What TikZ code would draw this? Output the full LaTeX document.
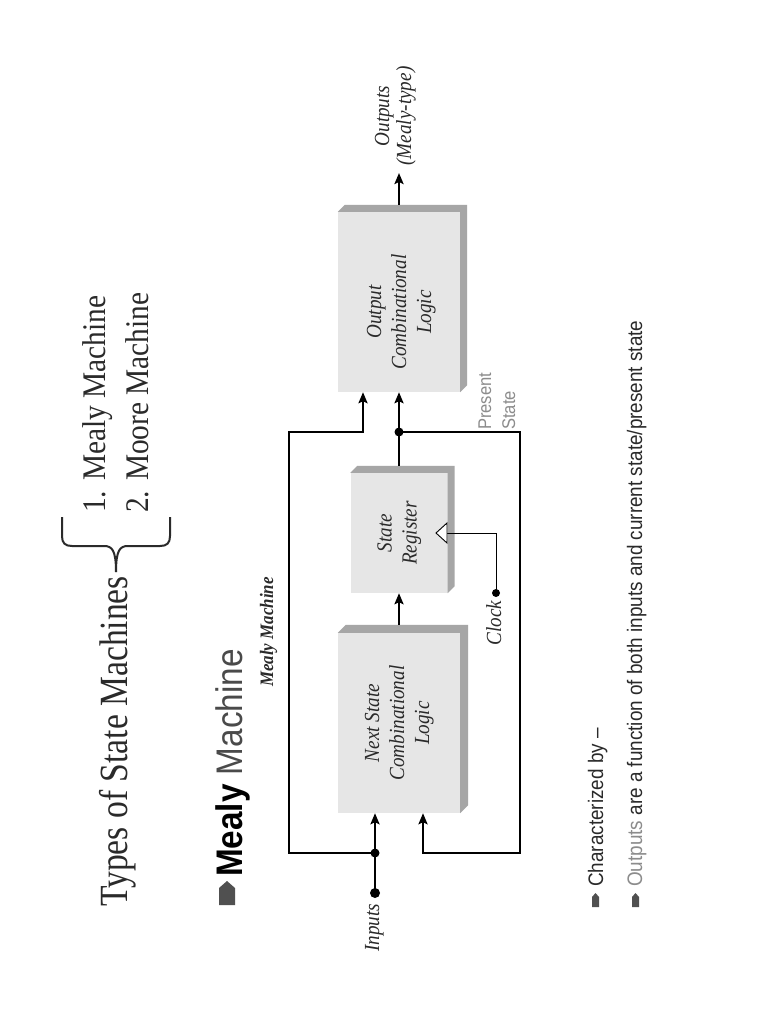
\documentclass[tikz,border=0pt]{standalone}
\usepackage{fontspec}
\setmainfont{Liberation Serif}[FakeStretch=0.89]
\newfontfamily\titlefont{Liberation Serif}[FakeStretch=0.84]
\newfontfamily\sansfont{Liberation Sans}[FakeStretch=0.9]
\usetikzlibrary{arrows.meta,calc}
\definecolor{boxface}{HTML}{E6E6E6}
\definecolor{boxside}{HTML}{A6A6A6}
\definecolor{darktext}{HTML}{2A2A2A}
\definecolor{machgray}{HTML}{4A4A4A}
\definecolor{lighttext}{HTML}{8C8C8C}
\definecolor{bulletgray}{HTML}{505050}
\begin{document}
\begin{tikzpicture}[x=1pt,y=-1pt,
  wire/.style={line width=2.6pt},
  arr/.style={-{Stealth[length=11pt,width=9pt,inset=2pt]}},
  thinwire/.style={line width=0.9pt},
  box/.style={fill=boxface, draw=none, inner sep=0pt,
    font=\fontsize{21.5}{25}\selectfont\itshape, text=darktext},
  dot/.style={circle, fill=black, inner sep=0pt, minimum size=9pt},
  rot/.style={rotate=90, inner sep=0pt},
  lbl/.style={rot, font=\fontsize{21.5}{25}\selectfont\itshape, text=darktext},
  side/.style={fill=boxside},
]
\fill[white] (0,0) rectangle (768,1024);
\useasboundingbox (0,0) rectangle (768,1024);

% ---- header ----
\node[rot, anchor=base west, font=\titlefont\fontsize{40}{44}\selectfont, text=darktext] (title) at (127,907) {Types of State Machines};
\node[rot, anchor=base west, font=\fontsize{33}{36}\selectfont, text=darktext] (l1) at (105,513) {1. Mealy Machine};
\node[rot, anchor=base west, font=\fontsize{33}{36}\selectfont, text=darktext] (l2) at (148,513) {2. Moore Machine};
\draw[line width=2pt, darktext] (62,517) -- (62,536) .. controls (62,543) and (65,546) .. (72,546) -- (104,546) .. controls (112,546) and (116,550) .. (116,572);
\draw[line width=2pt, darktext] (170,517) -- (170,536) .. controls (170,543) and (167,546) .. (160,546) -- (128,546) .. controls (120,546) and (116,550) .. (116,572);

% ---- heading ----
\fill[bulletgray] (219,905) -- (219,888) -- (227,881) -- (235,888) -- (235,905) -- cycle;
\node[rot, anchor=base west, font=\sansfont\fontsize{37}{40}\selectfont] (head) at (242,877) {\textbf{Mealy} \textcolor{machgray}{Machine}};
\node[rot, anchor=base, font=\fontsize{19}{22}\selectfont\bfseries\itshape, text=darktext] (sub) at (273,632) {Mealy Machine};

% ---- boxes ----
\node[box, minimum width=122pt, minimum height=180pt] (ns) at (399,723)
  {\rotatebox{90}{\begin{tabular}{@{}c@{}}Next State\\Combinational\\Logic\end{tabular}}};
\node[box, minimum width=97pt, minimum height=120pt] (sr) at (399,533)
  {\rotatebox{90}{\begin{tabular}{@{}c@{}}State\\Register\end{tabular}}};
\node[box, minimum width=122pt, minimum height=180pt] (oc) at (399,302) {};
\node[lbl, align=center] (octext) at (401,312)
  {\begin{tabular}{@{}c@{}}Output\\Combinational\\Logic\end{tabular}};
\foreach \n/\d in {ns/8, sr/7, oc/7} {
  \fill[side] (\n.north west) -- ++(\d,-\d) -- ($(\n.north east)+(\d,-\d)$)
    -- ($(\n.south east)+(\d,-\d)$) -- (\n.south east) -- (\n.north east) -- cycle;
}

% ---- clock ----
\node[dot, minimum size=8pt] (clk) at (496,593) {};
\coordinate (trb) at (447,533);
\coordinate (trt) at (447,523);
\coordinate (trs) at (447,543);
\coordinate (trap) at (436,533);
\draw[thinwire] (clk.center) |- (trb);
\draw[thinwire, line join=miter, fill=white] (trt) -- (trap) -- (trs) -- cycle;
\node[lbl, anchor=base] (clklbl) at (501,623) {Clock};

% ---- connectors ----
\node[dot, minimum size=10pt] (in) at (375,893) {};
\node[dot] (j1) at (375,853) {};
\node[dot] (j2) at (399,432) {};
\coordinate (lb) at (289,853);
\coordinate (lt) at (289,432);
\coordinate (o1) at (363,432);
\coordinate (rt) at (520,432);
\coordinate (rb) at (520,853);
\coordinate (i2) at (423,853);
\coordinate (outtip) at (399,173);

\draw[wire, arr] (in.center) -- (in.center |- ns.south);
\draw[wire, arr] (j1.center) -- (lb) -- (lt) -- (o1) -- (o1 |- oc.south);
\draw[wire, arr] ($(sr.north)+(0,-7)$) -- (j2.center) -- (j2.center |- oc.south);
\draw[wire, arr] (j2.center) -- (rt) -- (rb) -- (i2) -- (i2 |- ns.south);
\draw[wire, arr] ($(ns.north)+(0,-8)$) -- (sr.south);
\draw[wire, arr] ($(oc.north)+(0,-7)$) -- (outtip);

\node[lbl, anchor=base] (inlbl) at (379,928) {Inputs};
\node[lbl, anchor=base] (outlbl1) at (389,116) {Outputs};
\node[lbl, anchor=base] (outlbl2) at (411,116) {(Mealy-type)};
\node[rot, anchor=base west, font=\sansfont\fontsize{18.4}{21}\selectfont, text=lighttext] (ps1) at (491,430) {Present};
\node[rot, anchor=base west, font=\sansfont\fontsize{18.4}{21}\selectfont, text=lighttext] (ps2) at (515,430) {State};

% ---- bullets ----
\fill[bulletgray] (592,907) -- (592,897) -- (595.5,893) -- (599,897) -- (599,907) -- cycle;
\fill[bulletgray] (632,907) -- (632,897) -- (635.5,893) -- (639,897) -- (639,907) -- cycle;
\node[rot, anchor=base west, font=\sansfont\fontsize{21}{24}\selectfont, text=darktext] (b1) at (603,887) {Characterized by –};
\node[rot, anchor=base west, font=\sansfont\fontsize{21}{24}\selectfont, text=darktext] (b2) at (642,887) {\textcolor{lighttext}{Outputs} are a function of both inputs and current state/present state};
\end{tikzpicture}
\end{document}
